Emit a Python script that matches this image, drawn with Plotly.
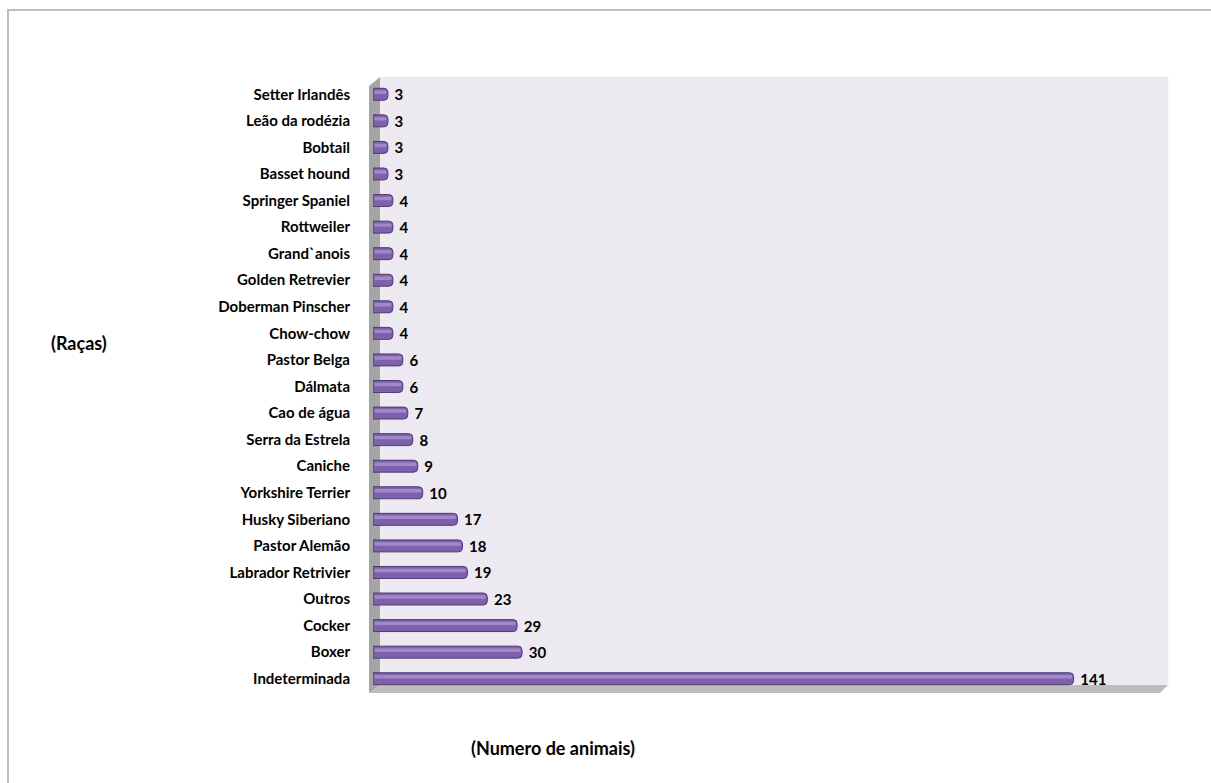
import plotly.graph_objects as go

racas = ["Setter Irlandês", "Leão da rodézia", "Bobtail", "Basset hound",
         "Springer Spaniel", "Rottweiler", "Grand`anois", "Golden Retrevier",
         "Doberman Pinscher", "Chow-chow", "Pastor Belga", "Dálmata",
         "Cao de água", "Serra da Estrela", "Caniche", "Yorkshire Terrier",
         "Husky Siberiano", "Pastor Alemão", "Labrador Retrivier", "Outros",
         "Cocker", "Boxer", "Indeterminada"]
animais = [3, 3, 3, 3, 4, 4, 4, 4, 4, 4, 6, 6, 7, 8, 9, 10, 17, 18, 19, 23, 29, 30, 141]

W, H = 1211, 783
L, R, T, B = 373, 1168, 81, 692
PW, PH = R - L, B - T

def px(x):
    return (x - L) / PW

def py(y):
    return (B - y) / PH

FONT = "Lato, 'Open Sans', sans-serif"

fig = go.Figure()
fig.add_trace(go.Bar(
    x=animais, y=racas, orientation="h",
    marker=dict(color="#7E61AA", line=dict(color="#4E3B6E", width=1)),
    width=0.45, offset=-0.225,
    text=[" " + str(v) for v in animais], textposition="outside",
    constraintext="none",
    textfont=dict(family=FONT, size=15, color="black", weight="bold"),
    cliponaxis=False, hoverinfo="x+y",
))
# cylinder highlight band
fig.add_trace(go.Bar(
    x=[v - 0.6 for v in animais], y=racas, orientation="h", base=0.3,
    marker=dict(color="#A089C8", line=dict(width=0)),
    width=0.13, offset=-0.14,
    hoverinfo="skip",
))

shapes = []
shapes.append(dict(type="rect", xref="paper", yref="paper",
                   x0=px(8), x1=px(1240), y0=py(10), y1=py(820),
                   line=dict(color="#BDBDBD", width=2), fillcolor="rgba(0,0,0,0)", layer="below"))
shapes.append(dict(type="rect", xref="paper", yref="paper",
                   x0=px(380), x1=px(1168), y0=py(685), y1=py(77),
                   line=dict(color="#F2F1F5", width=1), fillcolor="#ECE9F1", layer="below"))
shapes.append(dict(type="path", xref="paper", yref="paper",
                   path=f"M {px(369)},{py(86)} L {px(380)},{py(77)} L {px(380)},{py(685)} L {px(369)},{py(693)} Z",
                   line=dict(width=0), fillcolor="#A5A5A5", layer="below"))
shapes.append(dict(type="path", xref="paper", yref="paper",
                   path=f"M {px(369)},{py(693)} L {px(380)},{py(685)} L {px(1168)},{py(685)} L {px(1160)},{py(693)} Z",
                   line=dict(width=0), fillcolor="#BDBDBD", layer="below"))

fig.update_layout(
    width=W, height=H,
    margin=dict(l=L, r=W - R, t=T, b=H - B),
    paper_bgcolor="white", plot_bgcolor="rgba(0,0,0,0)",
    showlegend=False,
    barmode="overlay",
    barcornerradius=4,
    shapes=shapes,
    xaxis=dict(range=[0, 160], showgrid=False, zeroline=False, showticklabels=False,
               showline=False, fixedrange=True),
    yaxis=dict(autorange="reversed", showgrid=False, zeroline=False, showline=False,
               ticklabelstandoff=22,
               tickfont=dict(family=FONT, size=15, color="black", weight="bold")),
    annotations=[
        dict(text="(Raças)", xref="paper", yref="paper", x=px(79), y=py(343),
             xanchor="center", yanchor="middle",
             showarrow=False, font=dict(family=FONT, size=18, color="black", weight="bold")),
        dict(text="(Numero de animais)", xref="paper", yref="paper", x=px(553), y=py(748),
             xanchor="center", yanchor="middle",
             showarrow=False, font=dict(family=FONT, size=18, color="black", weight="bold")),
    ],
)

fig.write_html("out.html", config={"displayModeBar": False},
               post_script="document.body.style.margin='0';document.body.style.overflow='hidden';")
